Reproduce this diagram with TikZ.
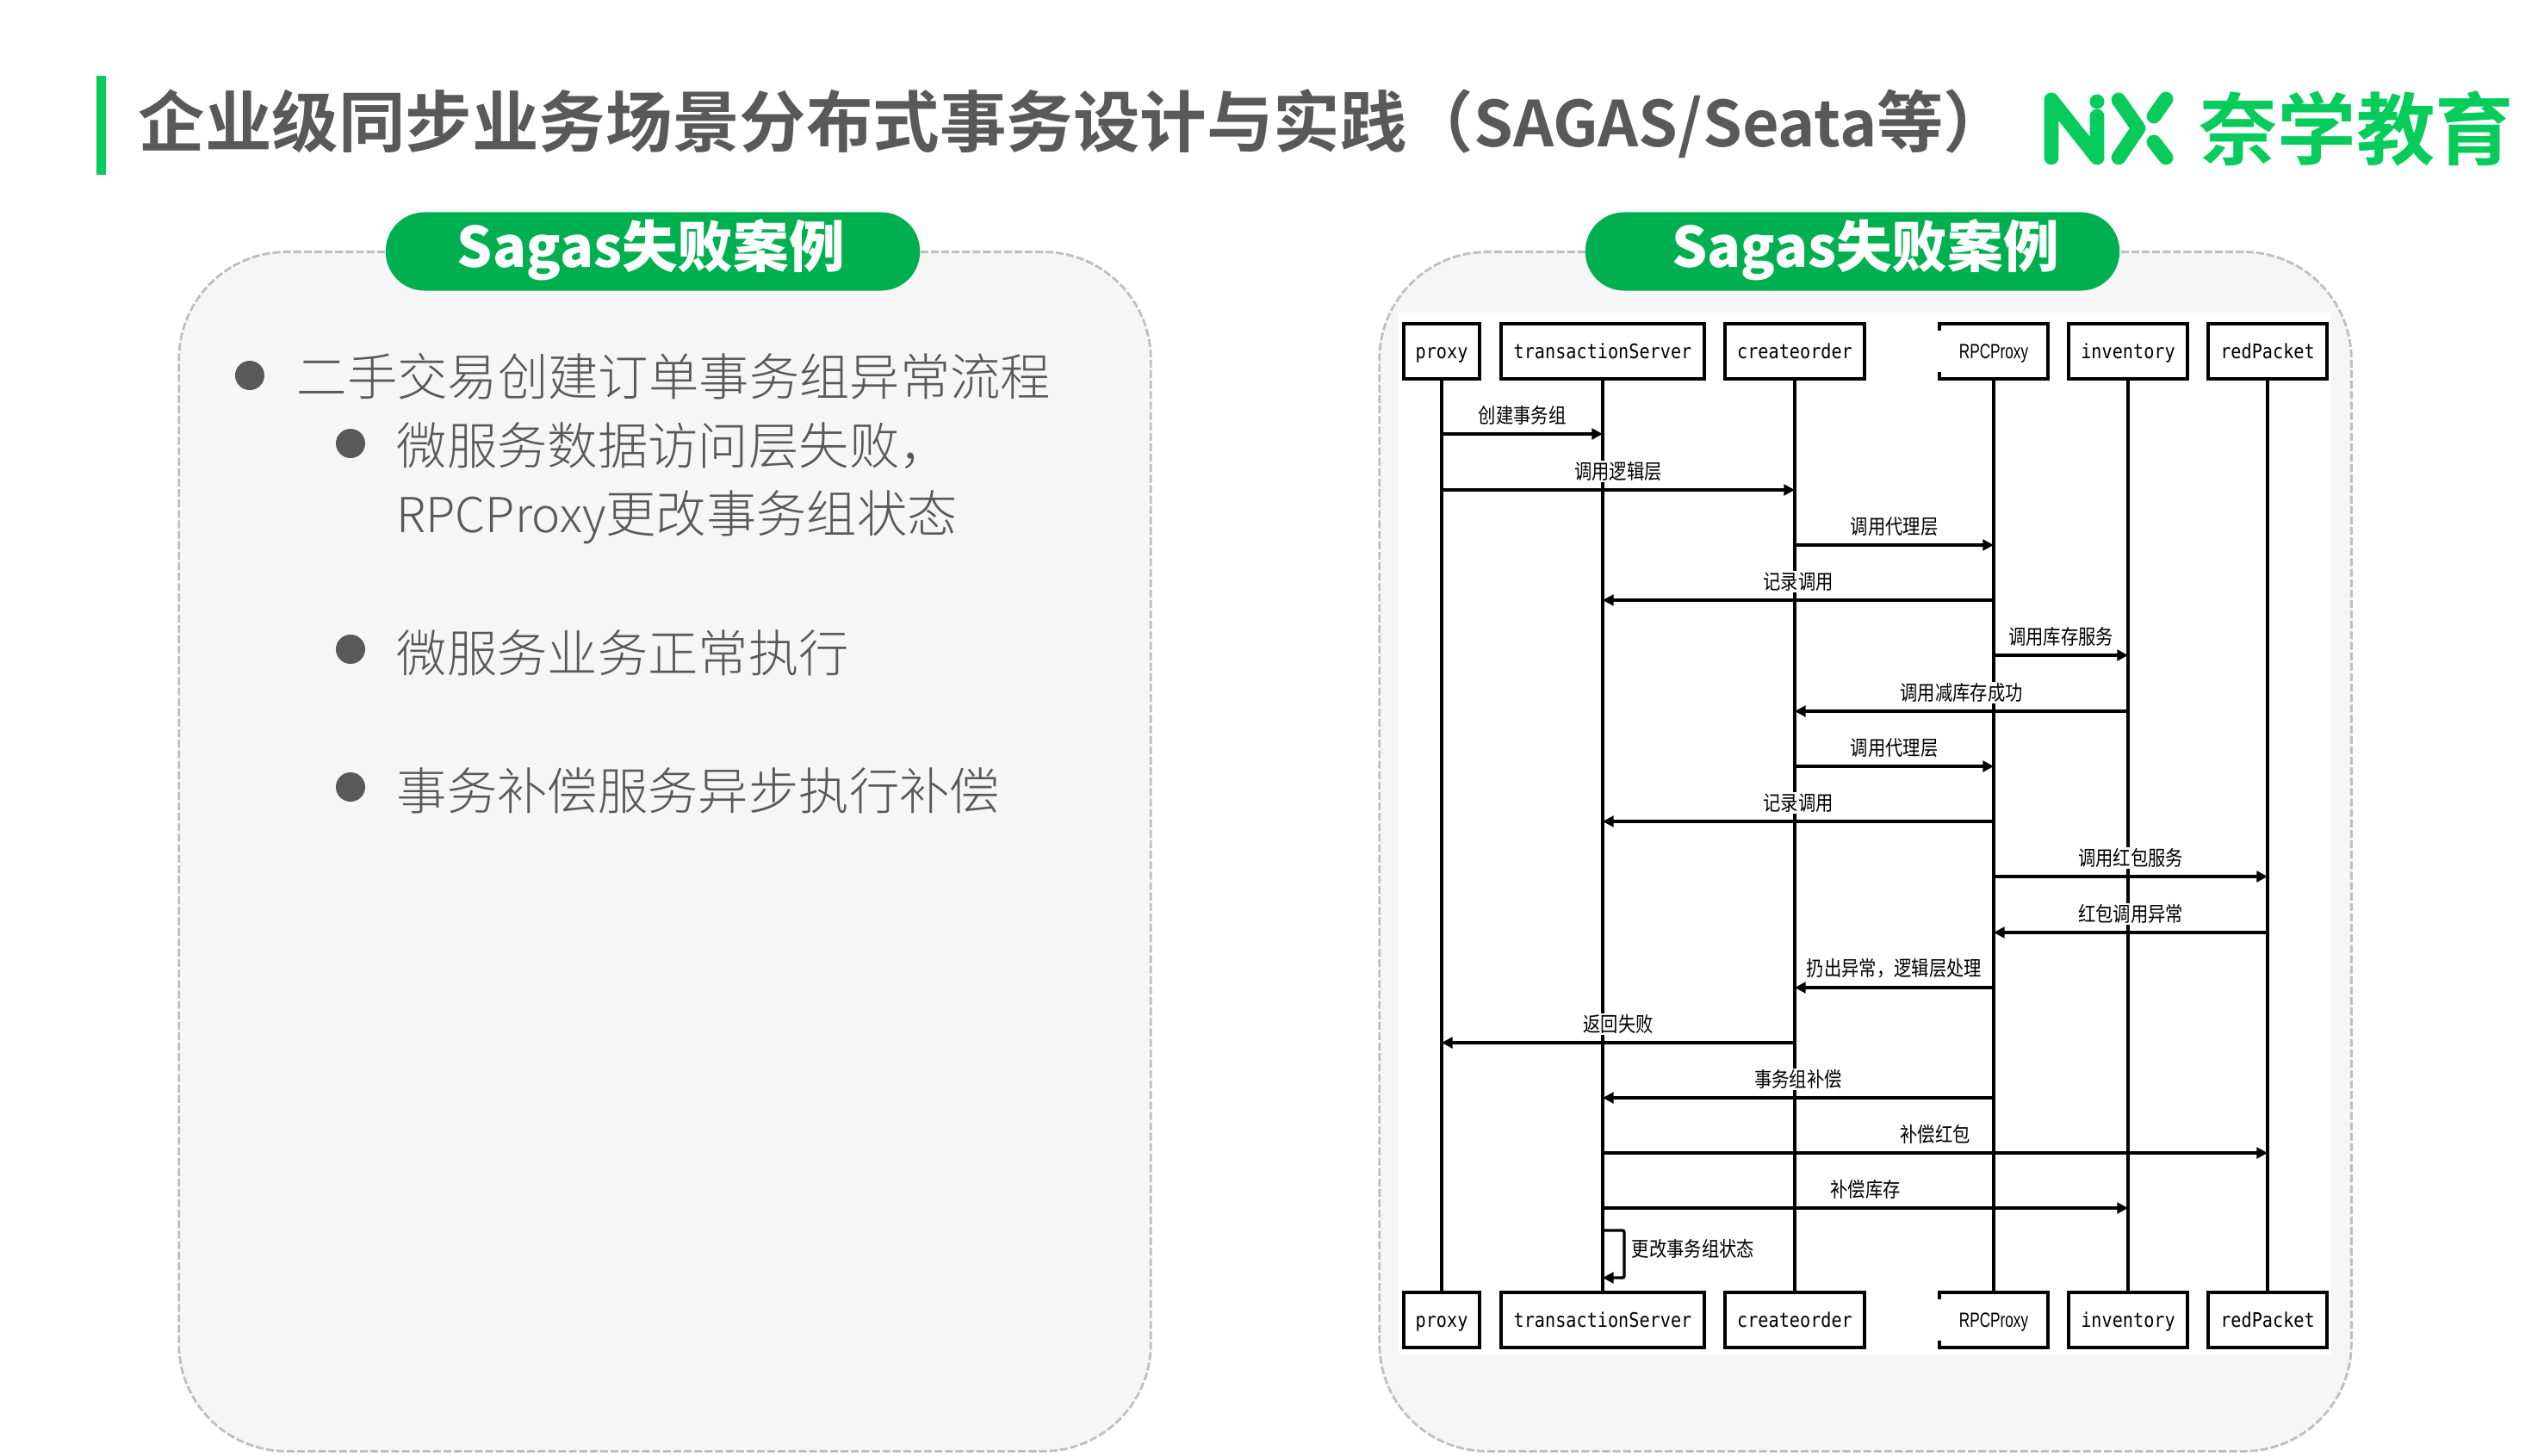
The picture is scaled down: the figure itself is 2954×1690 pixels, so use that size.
\documentclass[tikz,border=0pt]{standalone}
\usepackage{fontspec}
\usepackage{tikz}
\usetikzlibrary{arrows.meta,positioning}
\setmainfont{Noto Sans CJK SC}
\newfontfamily\titlefont{Noto Sans CJK SC}[BoldFont=* Bold]
\newfontfamily\bodyfont{Noto Sans CJK SC Light}
\newfontfamily\msgfont{Noto Sans CJK SC}[FakeStretch=0.85]
\newfontfamily\boxfont{DejaVu Sans Mono}[FakeStretch=0.87]
\newfontfamily\rpcfont{Liberation Sans}[FakeStretch=0.72]
\definecolor{panelgray}{HTML}{F6F6F6}
\definecolor{dashgray}{HTML}{BFBFBF}
\definecolor{pillgreen}{HTML}{00B050}
\definecolor{logogreen}{HTML}{07CC5C}
\definecolor{textgray}{HTML}{595959}
\tikzset{>={Stealth[inset=0pt,length=3.6pt,width=3.6pt]}}
\tikzset{
  panel/.style={draw=dashgray,fill=panelgray,line width=0.8pt,dash pattern=on 2.6pt off 0.85pt,rounded corners=1.25cm,minimum width=11.28cm,minimum height=13.92cm,outer sep=0pt},
  pill/.style={fill=pillgreen,rounded corners=0.45cm,minimum width=6.2cm,minimum height=0.91cm,outer sep=0pt},
  pilltext/.style={text=white,font=\fontsize{18.4}{22}\selectfont\bfseries,inner sep=0pt},
  bodytext/.style={text=textgray,anchor=west,inner sep=0pt,font=\bodyfont\fontsize{16.6}{20}\selectfont},
  dotmark/.style={circle,fill=textgray,minimum size=0.34cm,inner sep=0pt},
  seqbox/.style={draw=black,fill=white,line width=1.1pt,minimum height=0.64cm,inner sep=0pt,outer sep=0pt,text height=0.21cm,text depth=0.05cm,font=\boxfont\fontsize{6.6}{8}\selectfont},
  rpcbox/.style={fill=white,minimum width=1.26cm,minimum height=0.64cm,inner sep=0pt,outer sep=0pt,text height=0.21cm,text depth=0.05cm,font=\rpcfont\fontsize{6.8}{8}\selectfont},
  life/.style={line width=0.95pt},
  call/.style={->,line width=0.95pt},
  msg/.style={midway,above=2.2pt,fill=white,inner sep=0.4pt,font=\msgfont\fontsize{6.8}{8}\selectfont},
  logoline/.style={draw=logogreen,line width=4.8pt,line cap=round,line join=round}
}
\begin{document}
\begin{tikzpicture}[x=0.01cm,y=-0.01cm]
\useasboundingbox (0,0) rectangle (2954,1690);
% title
\fill [logogreen] (112,88) rectangle (123,203);
\node [anchor=west,inner sep=0pt,text=textgray,font=\titlefont\fontsize{22.05}{26}\selectfont\bfseries] (title) at (160,144) {企业级同步业务场景分布式事务设计与实践（{\fontsize{20.9}{26}\selectfont SAGAS/Seata}等）};
% logo
\draw [logoline] (2382,183)--(2382,116)--(2435,183)--(2435,135);
\fill [logogreen] (2435,118) circle (0.085cm);
\draw [logoline] (2460,116)--(2483,149)--(2460,183);
\draw [logoline] (2501,135)--(2515,115);
\draw [logoline] (2501,165)--(2515,183);
\node [inner sep=0pt,text=logogreen,font=\titlefont\fontsize{26}{30}\selectfont\bfseries] (logotext) at (2736,149) {奈学教育};
% panels
\node [panel] (leftpanel) at (772,989) {};
\node [panel] (rightpanel) at (2166,989) {};
\node [pill] (leftpill) at (758,292) {};
\node [pill] (rightpill) at (2151,292) {};
\node [pilltext] (lefttitle) at (756,290) {Sagas失败案例};
\node [pilltext] (righttitle) at (2166,290) {Sagas失败案例};
% left text
\node [dotmark] (d1) at (290,436) {};
\node [bodytext] (t1) at (344,437) {二手交易创建订单事务组异常流程};
\node [dotmark] (d2) at (407,515) {};
\node [bodytext] (t2) at (460,518) {微服务数据访问层失败，};
\node [bodytext] (t3) at (460,601) {{\fontsize{15.9}{20}\selectfont RPCProxy}更改事务组状态};
\node [dotmark] (d3) at (407,754) {};
\node [bodytext] (t4) at (460,758) {微服务业务正常执行};
\node [dotmark] (d4) at (407,914) {};
\node [bodytext] (t5) at (460,918) {事务补偿服务异步执行补偿};
% sequence picture
\fill [white] (1624,363) rectangle (2707,1573);
\node [seqbox,minimum width=0.88cm] (proxyT) at (1674,408) {proxy};
\node [seqbox,minimum width=2.36cm] (transT) at (1861,408) {transactionServer};
\node [seqbox,minimum width=1.62cm] (orderT) at (2084,408) {createorder};
\node [rpcbox] (rpcT) at (2315,408) {RPCProxy};
\node [seqbox,minimum width=1.38cm] (invT) at (2471,408) {inventory};
\node [seqbox,minimum width=1.38cm] (redT) at (2633,408) {redPacket};
\node [seqbox,minimum width=0.88cm] (proxyB) at (1674,1533) {proxy};
\node [seqbox,minimum width=2.36cm] (transB) at (1861,1533) {transactionServer};
\node [seqbox,minimum width=1.62cm] (orderB) at (2084,1533) {createorder};
\node [rpcbox] (rpcB) at (2315,1533) {RPCProxy};
\node [seqbox,minimum width=1.38cm] (invB) at (2471,1533) {inventory};
\node [seqbox,minimum width=1.38cm] (redB) at (2633,1533) {redPacket};
\draw [line width=1.1pt] ([yshift=-0.08cm]rpcT.north west)--(rpcT.north west)--(rpcT.north east)--(rpcT.south east)--(rpcT.south west)--([yshift=0.08cm]rpcT.south west);
\draw [line width=1.1pt] ([yshift=-0.08cm]rpcB.north west)--(rpcB.north west)--(rpcB.north east)--(rpcB.south east)--(rpcB.south west)--([yshift=0.08cm]rpcB.south west);
\draw [life] (proxyT)--(proxyB);
\draw [life] (transT)--(transB);
\draw [life] (orderT)--(orderB);
\draw [life] (rpcT)--(rpcB);
\draw [life] (invT)--(invB);
\draw [life] (redT)--(redB);
\coordinate (m1) at (0,504);
\coordinate (m2) at (0,569);
\coordinate (m3) at (0,633);
\coordinate (m4) at (0,697);
\coordinate (m5) at (0,761);
\coordinate (m6) at (0,826);
\coordinate (m7) at (0,890);
\coordinate (m8) at (0,954);
\coordinate (m9) at (0,1018);
\coordinate (m10) at (0,1083);
\coordinate (m11) at (0,1147);
\coordinate (m12) at (0,1211);
\coordinate (m13) at (0,1275);
\coordinate (m14) at (0,1339);
\coordinate (m15) at (0,1403);
\draw [call] (proxyT |- m1)--(transT |- m1) node [msg] (l1) {创建事务组};
\draw [call] (proxyT |- m2)--(orderT |- m2) node [msg] (l2) {调用逻辑层};
\draw [call] (orderT |- m3)--(rpcT |- m3) node [msg] (l3) {调用代理层};
\draw [call] (rpcT |- m4)--(transT |- m4) node [msg] (l4) {记录调用};
\draw [call] (rpcT |- m5)--(invT |- m5) node [msg] (l5) {调用库存服务};
\draw [call] (invT |- m6)--(orderT |- m6) node [msg] (l6) {调用减库存成功};
\draw [call] (orderT |- m7)--(rpcT |- m7) node [msg] (l7) {调用代理层};
\draw [call] (rpcT |- m8)--(transT |- m8) node [msg] (l8) {记录调用};
\draw [call] (rpcT |- m9)--(redT |- m9) node [msg] (l9) {调用红包服务};
\draw [call] (redT |- m10)--(rpcT |- m10) node [msg] (l10) {红包调用异常};
\draw [call] (rpcT |- m11)--(orderT |- m11) node [msg] (l11) {扔出异常，逻辑层处理};
\draw [call] (orderT |- m12)--(proxyT |- m12) node [msg] (l12) {返回失败};
\draw [call] (rpcT |- m13)--(transT |- m13) node [msg] (l13) {事务组补偿};
\draw [call] (transT |- m14)--(redT |- m14) node [msg] (l14) {补偿红包};
\draw [call] (transT |- m15)--(invT |- m15) node [msg] (l15) {补偿库存};
% self call
\coordinate (s1) at (1886,1429);
\coordinate (s2) at (1886,1484);
\draw [call,rounded corners=0.02cm] (transT |- s1)--(s1)--(s2)--(transT |- s2);
\node [anchor=west,inner sep=0pt,font=\msgfont\fontsize{6.8}{8}\selectfont] (l16) at (1894,1450) {更改事务组状态};
\end{tikzpicture}
\end{document}
